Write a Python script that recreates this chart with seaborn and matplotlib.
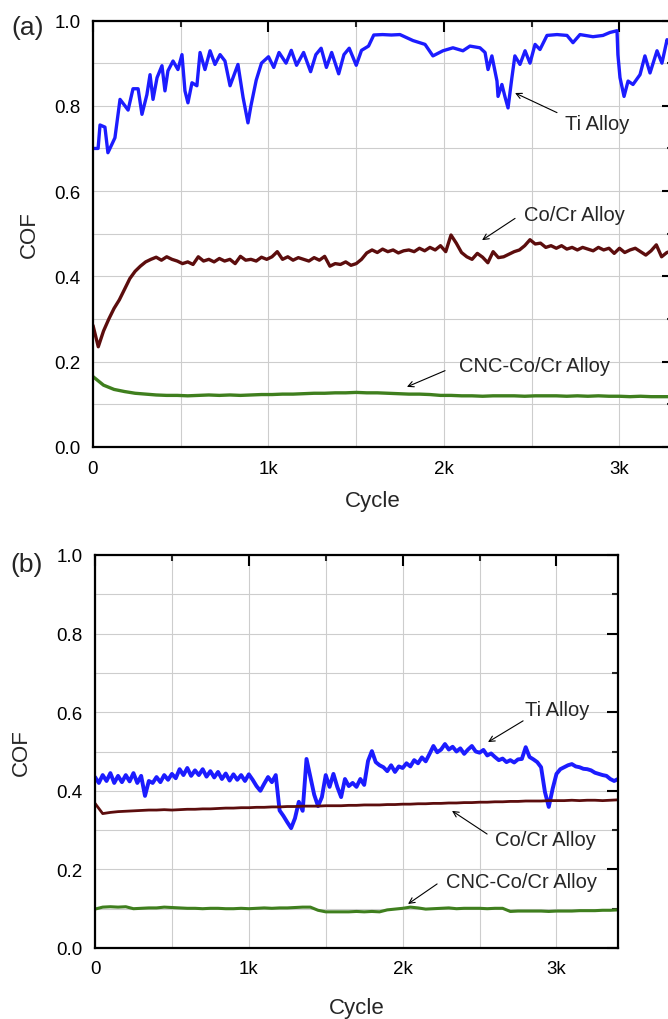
import numpy as np
import pandas as pd
import matplotlib
matplotlib.use("Agg")
import matplotlib.pyplot as plt
from matplotlib.ticker import FixedLocator, FixedFormatter, MultipleLocator
import seaborn as sns

# ---------------- data ----------------
x_ticks = [0, 1000, 2000, 3000]
x_tick_labels = ["0", "1k", "2k", "3k"]
y_ticks = [0.0, 0.2, 0.4, 0.6, 0.8, 1.0]
y_tick_labels = ["0.0", "0.2", "0.4", "0.6", "0.8", "1.0"]
series_names = ["Ti Alloy", "Co/Cr Alloy", "CNC-Co/Cr Alloy"]

# Panel (a)
a_ti_cycle = [0, 29, 40, 68, 85, 108, 125, 154, 182, 200, 228, 257, 279, 307, 325, 342, 365, 393,
              410, 427, 456, 484, 507, 524, 541, 564, 592, 610, 638, 667, 695, 724, 752, 781, 798,
              826, 855, 883, 900, 930, 960, 1000, 1030, 1060, 1100, 1130, 1160, 1200, 1240, 1270,
              1300, 1330, 1360, 1400, 1430, 1460, 1500, 1530, 1570, 1600, 1650, 1700, 1749, 1823,
              1892, 1937, 1994, 2051, 2108, 2148, 2205, 2234, 2251, 2273, 2302, 2308, 2330, 2347,
              2365, 2387, 2404, 2433, 2462, 2490, 2519, 2547, 2587, 2644, 2701, 2735, 2775, 2849,
              2906, 2946, 2986, 2991, 3003, 3026, 3049, 3077, 3117, 3145, 3174, 3214, 3242, 3271, 3305]
a_ti_cof = [0.70, 0.70, 0.755, 0.75, 0.69, 0.71, 0.725, 0.815, 0.80, 0.79, 0.84, 0.84, 0.78, 0.826,
            0.873, 0.815, 0.866, 0.894, 0.835, 0.882, 0.905, 0.885, 0.92, 0.835, 0.807, 0.854, 0.847,
            0.925, 0.885, 0.929, 0.897, 0.92, 0.905, 0.847, 0.866, 0.897, 0.82, 0.76, 0.80, 0.86,
            0.90, 0.915, 0.89, 0.925, 0.90, 0.93, 0.895, 0.925, 0.88, 0.92, 0.935, 0.89, 0.925,
            0.875, 0.92, 0.935, 0.895, 0.93, 0.94, 0.966, 0.967, 0.966, 0.967, 0.953, 0.944, 0.917,
            0.929, 0.936, 0.929, 0.94, 0.936, 0.925, 0.885, 0.917, 0.858, 0.822, 0.85, 0.822, 0.795,
            0.866, 0.917, 0.897, 0.929, 0.90, 0.944, 0.932, 0.965, 0.967, 0.965, 0.948, 0.967, 0.962,
            0.965, 0.972, 0.976, 0.92, 0.866, 0.822, 0.858, 0.85, 0.873, 0.917, 0.877, 0.929, 0.90,
            0.955, 0.93]

a_cocr_step = 30
a_cocr_cof = [
    0.285, 0.235, 0.272, 0.30, 0.325, 0.345, 0.37, 0.395, 0.412, 0.424,
    0.434, 0.44, 0.445, 0.438, 0.446, 0.44, 0.436, 0.43, 0.434, 0.428,
    0.446, 0.436, 0.44, 0.434, 0.442, 0.436, 0.44, 0.43, 0.447, 0.438,
    0.44, 0.436, 0.445, 0.44, 0.446, 0.458, 0.44, 0.446, 0.438, 0.444,
    0.44, 0.436, 0.444, 0.438, 0.447, 0.424, 0.43, 0.428, 0.434, 0.426,
    0.43, 0.44, 0.455, 0.462, 0.456, 0.464, 0.458, 0.462, 0.455, 0.46,
    0.462, 0.458, 0.466, 0.46, 0.468, 0.462, 0.472, 0.458, 0.497, 0.478,
    0.456, 0.446, 0.44, 0.454, 0.445, 0.432, 0.458, 0.444, 0.446, 0.452,
    0.458, 0.462, 0.472, 0.486, 0.476, 0.478, 0.468, 0.472, 0.466, 0.472,
    0.464, 0.468, 0.462, 0.468, 0.464, 0.46, 0.468, 0.462, 0.466, 0.454,
    0.466, 0.456, 0.462, 0.466, 0.458, 0.45, 0.46, 0.474, 0.446, 0.456,
    0.46]

a_cnc_step = 60
a_cnc_cof = [
    0.165, 0.145, 0.135, 0.13, 0.126, 0.124, 0.122, 0.121, 0.121, 0.12,
    0.121, 0.122, 0.121, 0.122, 0.121, 0.122, 0.123, 0.123, 0.124, 0.124,
    0.125, 0.126, 0.126, 0.127, 0.127, 0.128, 0.127, 0.127, 0.126, 0.125,
    0.124, 0.124, 0.123, 0.121, 0.121, 0.12, 0.12, 0.119, 0.12, 0.12,
    0.12, 0.119, 0.12, 0.12, 0.12, 0.119, 0.12, 0.119, 0.12, 0.119,
    0.119, 0.118, 0.119, 0.118, 0.118, 0.118]

# Panel (b)
b_ti_step = 25
b_ti_cof = [
    0.435, 0.42, 0.44, 0.425, 0.445, 0.42, 0.438, 0.422,
    0.44, 0.424, 0.445, 0.42, 0.438, 0.387, 0.425, 0.42,
    0.435, 0.422, 0.44, 0.428, 0.443, 0.432, 0.455, 0.44,
    0.458, 0.438, 0.452, 0.44, 0.455, 0.436, 0.45, 0.434,
    0.448, 0.43, 0.444, 0.426, 0.442, 0.428, 0.44, 0.425,
    0.442, 0.428, 0.412, 0.40, 0.418, 0.435, 0.422, 0.44,
    0.35, 0.336, 0.32, 0.305, 0.33, 0.372, 0.349, 0.481,
    0.435, 0.39, 0.361, 0.384, 0.44, 0.41, 0.443, 0.41,
    0.384, 0.43, 0.412, 0.42, 0.41, 0.43, 0.415, 0.476,
    0.501, 0.473, 0.465, 0.46, 0.45, 0.465, 0.448, 0.462,
    0.458, 0.47, 0.462, 0.478, 0.47, 0.485, 0.475, 0.494,
    0.514, 0.498, 0.505, 0.519, 0.505, 0.512, 0.50, 0.508,
    0.494, 0.505, 0.514, 0.50, 0.497, 0.504, 0.49, 0.495,
    0.486, 0.478, 0.482, 0.473, 0.478, 0.472, 0.48, 0.481,
    0.511, 0.486, 0.48, 0.473, 0.46, 0.397, 0.359, 0.405,
    0.443, 0.455, 0.46, 0.465, 0.468, 0.462, 0.46, 0.456,
    0.455, 0.452, 0.446, 0.443, 0.44, 0.438, 0.43, 0.425,
    0.43]

b_cocr_step = 50
b_cocr_cof = [
    0.368, 0.342, 0.345, 0.347, 0.348, 0.349, 0.35, 0.351, 0.351, 0.352,
    0.351, 0.352, 0.353, 0.353, 0.354, 0.354, 0.355, 0.356, 0.356, 0.357,
    0.357, 0.358, 0.358, 0.359, 0.359, 0.36, 0.36, 0.361, 0.361, 0.361,
    0.362, 0.362, 0.362, 0.363, 0.363, 0.364, 0.364, 0.364, 0.365, 0.365,
    0.366, 0.366, 0.367, 0.367, 0.368, 0.368, 0.369, 0.369, 0.37, 0.37,
    0.371, 0.371, 0.372, 0.372, 0.373, 0.373, 0.374, 0.374, 0.374, 0.375,
    0.375, 0.375, 0.376, 0.375, 0.376, 0.376, 0.375, 0.376, 0.377]

b_cnc_step = 50
b_cnc_cof = [
    0.099, 0.104, 0.105, 0.104, 0.105, 0.10, 0.101, 0.102, 0.102, 0.104,
    0.103, 0.102, 0.101, 0.101, 0.10, 0.101, 0.101, 0.10, 0.10, 0.101,
    0.10, 0.101, 0.102, 0.101, 0.102, 0.102, 0.103, 0.104, 0.104, 0.096,
    0.092, 0.092, 0.092, 0.092, 0.093, 0.092, 0.093, 0.092, 0.097, 0.099,
    0.101, 0.104, 0.102, 0.099, 0.10, 0.101, 0.102, 0.10, 0.101, 0.101,
    0.101, 0.10, 0.101, 0.101, 0.093, 0.094, 0.094, 0.094, 0.094, 0.093,
    0.094, 0.094, 0.094, 0.095, 0.095, 0.095, 0.096, 0.096, 0.097]

colors = {"Ti Alloy": "#1c1cff", "Co/Cr Alloy": "#5c0d0d", "CNC-Co/Cr Alloy": "#3f7f1e"}
widths_a = {"Ti Alloy": 2.4, "Co/Cr Alloy": 2.4, "CNC-Co/Cr Alloy": 2.4}
widths_b = {"Ti Alloy": 2.8, "Co/Cr Alloy": 2.0, "CNC-Co/Cr Alloy": 2.2}


def frame(cycles, cof, name):
    return pd.DataFrame({"Cycle": np.asarray(cycles, float), "COF": cof, "series": name})


a_frames = [
    frame(a_ti_cycle, a_ti_cof, "Ti Alloy"),
    frame(np.arange(len(a_cocr_cof)) * a_cocr_step, a_cocr_cof, "Co/Cr Alloy"),
    frame(np.arange(len(a_cnc_cof)) * a_cnc_step, a_cnc_cof, "CNC-Co/Cr Alloy"),
]
b_frames = [
    frame(np.arange(len(b_ti_cof)) * b_ti_step, b_ti_cof, "Ti Alloy"),
    frame(np.arange(len(b_cocr_cof)) * b_cocr_step, b_cocr_cof, "Co/Cr Alloy"),
    frame(np.arange(len(b_cnc_cof)) * b_cnc_step, b_cnc_cof, "CNC-Co/Cr Alloy"),
]

# ---------------- style ----------------
sns.set_style("white")
plt.rcParams["font.family"] = ["Liberation Sans", "DejaVu Sans"]

W, H = 668, 1020
fig = plt.figure(figsize=(W / 100, H / 100), dpi=100)

ax_a = fig.add_axes([93 / W, 1 - 448 / H, 580 / W, (448 - 21.5) / H])
ax_b = fig.add_axes([95 / W, 1 - 949 / H, 523 / W, (949 - 556) / H])


def style_axes(ax, xmax):
    ax.set_xlim(0, xmax)
    ax.set_ylim(0, 1.0)
    ax.xaxis.set_major_locator(FixedLocator(x_ticks))
    ax.xaxis.set_major_formatter(FixedFormatter(x_tick_labels))
    ax.xaxis.set_minor_locator(MultipleLocator(500))
    ax.yaxis.set_major_locator(FixedLocator(y_ticks))
    ax.yaxis.set_major_formatter(FixedFormatter(y_tick_labels))
    ax.yaxis.set_minor_locator(MultipleLocator(0.1))
    ax.set_axisbelow(True)
    ax.grid(which="both", color="#cdcdcd", lw=0.8)
    for s in ax.spines.values():
        s.set_visible(True)
        s.set_color("black")
        s.set_linewidth(1.6)
    ax.tick_params(which="major", direction="in", length=8, width=1.5,
                   top=True, right=True, labelsize=13.5, colors="black")
    ax.tick_params(which="minor", direction="in", length=4.5, width=1.5,
                   top=True, right=True)
    ax.tick_params(axis="x", which="major", pad=9)
    ax.tick_params(axis="y", which="major", pad=9)
    ax.set_xlabel("Cycle", fontsize=16, labelpad=8)
    ax.set_ylabel("COF", fontsize=16, labelpad=10)


for ax, frames, xmax, widths in [(ax_a, a_frames, 3305, widths_a), (ax_b, b_frames, 3400, widths_b)]:
    for df in frames:
        name = df["series"].iloc[0]
        sns.lineplot(data=df, x="Cycle", y="COF", ax=ax, color=colors[name],
                     lw=widths[name], legend=False, estimator=None, sort=False)
    style_axes(ax, xmax)

ax_a.xaxis.set_label_coords((373 - 93) / 580, -0.1)
ax_b.xaxis.set_label_coords(0.5, -0.125)
ax_b.yaxis.set_label_coords(-0.12, 0.5)

arrow = dict(arrowstyle="->", color="black", lw=0.8, shrinkA=0, shrinkB=0)
txt = dict(fontsize=14.5, ha="center", va="center")

# panel (a) annotations
ax_a.annotate("", xy=(2405, 0.83), xytext=(2644, 0.784), arrowprops=arrow)
ax_a.text(2872, 0.758, "Ti Alloy", **txt)
ax_a.annotate("", xy=(2217, 0.485), xytext=(2405, 0.536), arrowprops=arrow)
ax_a.text(2741, 0.546, "Co/Cr Alloy", **txt)
ax_a.annotate("", xy=(1789, 0.141), xytext=(2006, 0.179), arrowprops=arrow)
ax_a.text(2513, 0.19, "CNC-Co/Cr Alloy", **txt)

# panel (b) annotations
ax_b.annotate("", xy=(2555, 0.524), xytext=(2783, 0.578), arrowprops=arrow)
ax_b.text(3004, 0.606, "Ti Alloy", **txt)
ax_b.annotate("", xy=(2321, 0.349), xytext=(2549, 0.29), arrowprops=arrow)
ax_b.text(2926, 0.275, "Co/Cr Alloy", **txt)
ax_b.annotate("", xy=(2035, 0.112), xytext=(2224, 0.163), arrowprops=arrow)
ax_b.text(2770, 0.168, "CNC-Co/Cr Alloy", **txt)

fig.text(28 / W, 1 - 28 / H, "(a)", fontsize=19, ha="center", va="center")
fig.text(27 / W, 1 - 565 / H, "(b)", fontsize=19, ha="center", va="center")

fig.savefig("out.png", dpi=100)
